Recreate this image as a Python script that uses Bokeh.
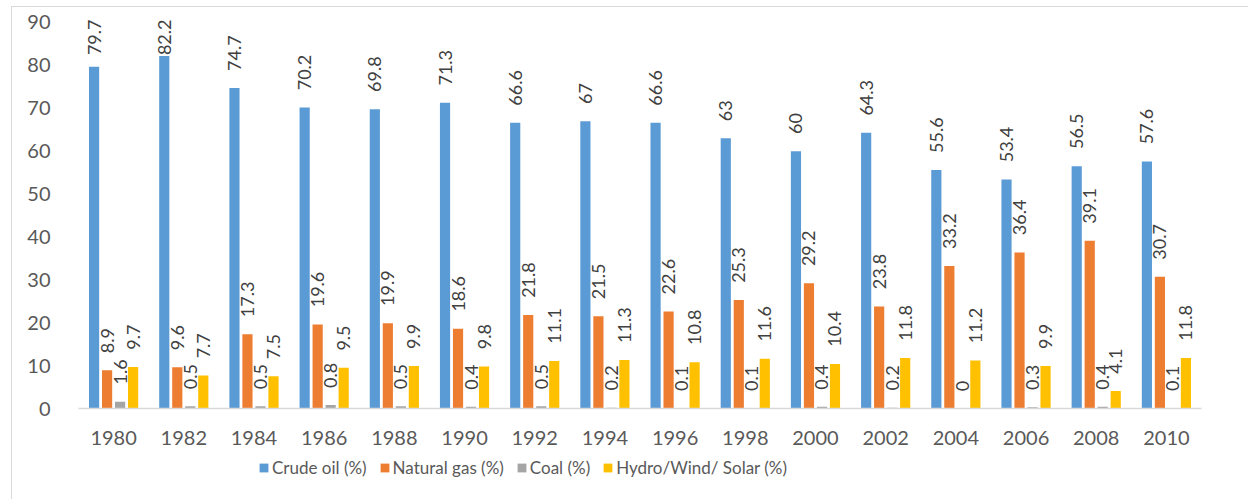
import numpy as np
from bokeh.plotting import figure
from bokeh.layouts import column
from bokeh.models import ColumnDataSource, FactorRange, Range1d, Legend, LegendItem, FixedTicker
from bokeh.transform import dodge
from bokeh.core.properties import value
from bokeh.embed import file_html
from bokeh.resources import INLINE

years = ["1980", "1982", "1984", "1986", "1988", "1990", "1992", "1994",
         "1996", "1998", "2000", "2002", "2004", "2006", "2008", "2010"]
crude_oil = [79.7, 82.2, 74.7, 70.2, 69.8, 71.3, 66.6, 67, 66.6, 63, 60, 64.3, 55.6, 53.4, 56.5, 57.6]
natural_gas = [8.9, 9.6, 17.3, 19.6, 19.9, 18.6, 21.8, 21.5, 22.6, 25.3, 29.2, 23.8, 33.2, 36.4, 39.1, 30.7]
coal = [1.6, 0.5, 0.5, 0.8, 0.5, 0.4, 0.5, 0.2, 0.1, 0.1, 0.4, 0.2, 0, 0.3, 0.4, 0.1]
renewables = [9.7, 7.7, 7.5, 9.5, 9.9, 9.8, 11.1, 11.3, 10.8, 11.6, 10.4, 11.8, 11.2, 9.9, 4.1, 11.8]
series_names = ["Crude oil (%)", "Natural gas (%)", "Coal (%)", "Hydro/Wind/ Solar (%)"]
y_ticks = [0, 10, 20, 30, 40, 50, 60, 70, 80, 90]

colors = ["#5B9BD5", "#ED7D31", "#A5A5A5", "#FFC000"]
offsets = [-0.278, -0.0926, 0.0926, 0.278]
FONT = "Lato"

series = [crude_oil, natural_gas, coal, renewables]
keys = ["crude", "gas", "coal", "ren"]
data = {"year": years}
for k, s in zip(keys, series):
    arr = np.array(s, dtype=float)
    data[k] = arr
    data[k + "_lab"] = [f"{v:g}" for v in s]
    data[k + "_ly"] = np.minimum(arr + 4.0, 82.4)
src = ColumnDataSource(data)

p = figure(x_range=FactorRange(*years), y_range=Range1d(0, 93.03),
           width=1236, height=443, output_backend="svg", toolbar_location=None,
           min_border_left=66, min_border_right=47, min_border_top=2, min_border_bottom=42)
p.outline_line_color = None
p.xgrid.grid_line_color = None
p.ygrid.grid_line_color = None
p.x_range.range_padding = 0

for k, c, o in zip(keys, colors, offsets):
    p.vbar(x=dodge("year", o, range=p.x_range), top=k, width=0.145, source=src,
           fill_color=c, line_color=None)
    p.text(x=dodge("year", o, range=p.x_range), y=k + "_ly", text=k + "_lab", source=src,
           angle=np.pi / 2, text_align="left", text_baseline="middle",
           text_font=value(FONT), text_font_size="18px", text_color="#404040")

p.yaxis.ticker = FixedTicker(ticks=y_ticks)
p.yaxis.axis_line_color = None
p.yaxis.major_tick_line_color = None
p.yaxis.minor_tick_line_color = None
p.yaxis.major_label_standoff = 22
p.yaxis.major_label_text_font = FONT
p.yaxis.major_label_text_font_size = "20px"
p.yaxis.major_label_text_color = "#595959"

p.xaxis.axis_line_color = "#d9d9d9"
p.xaxis.axis_line_width = 1.5
p.xaxis.major_tick_line_color = None
p.xaxis.minor_tick_line_color = None
p.xaxis.major_label_standoff = 16
p.xaxis.major_label_text_font = FONT
p.xaxis.major_label_text_font_size = "20px"
p.xaxis.major_label_text_color = "#595959"

# legend strip (its frame is aligned with the main frame by the column layout)
lf = figure(width=1236, height=49, output_backend="svg", toolbar_location=None,
            x_range=Range1d(0, 1), y_range=Range1d(0, 1),
            x_axis_location=None, y_axis_location=None,
            min_border_left=0, min_border_right=0, min_border_top=0, min_border_bottom=0)
lf.outline_line_color = None
lf.xgrid.grid_line_color = None
lf.ygrid.grid_line_color = None
hidden = ColumnDataSource(dict(x=[0.5], top=[0]))
leg_renderers = [lf.vbar(x="x", top="top", width=0, source=hidden, fill_color=c, line_color=None)
                 for c in colors]
legend = Legend(items=[LegendItem(label=n, renderers=[r]) for n, r in zip(series_names, leg_renderers)],
                orientation="horizontal", location=(180, 21),
                glyph_width=11, glyph_height=11, label_standoff=3, spacing=12,
                padding=0, margin=0, border_line_color=None, background_fill_alpha=0,
                label_text_font=FONT, label_text_font_size="17px", label_text_color="#595959")
lf.add_layout(legend)

layout = column(p, lf, spacing=0)
layout.margin = (6, 0, 0, 11)
layout.styles = {"border-top": "1px solid #d9d9d9", "border-left": "1px solid #d9d9d9"}

open("out.html", "w").write(file_html(layout, INLINE))
